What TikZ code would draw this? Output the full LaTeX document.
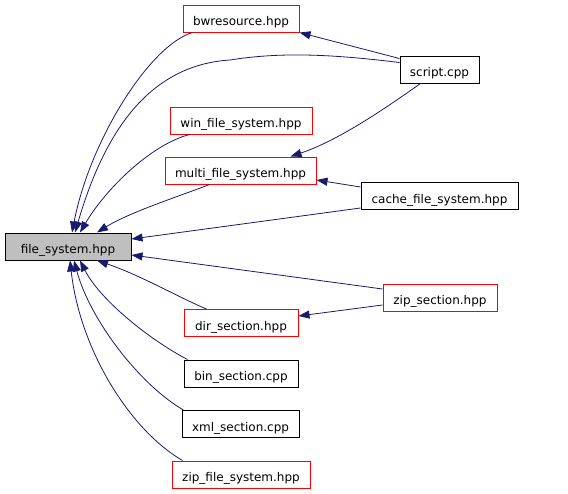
\documentclass[tikz,border=0pt]{standalone}
\usepackage{fontspec}
\setmainfont{DejaVu Sans}
\usetikzlibrary{arrows.meta}
\definecolor{inclblue}{HTML}{191970}
\definecolor{focusgray}{HTML}{BFBFBF}
\definecolor{linkred}{HTML}{FF0000}
\tikzset{
  filebox/.style={draw=black, line width=1pt, minimum height=27pt, inner sep=0pt,
    text height=14pt, text depth=0pt, font=\fontsize{12}{14}\selectfont},
  redbox/.style={filebox, draw=linkred},
  incl/.style={inclblue, line width=0.8pt, -{Triangle[length=11pt,width=8pt]}}
}

\begin{document}
\begin{tikzpicture}[x=1pt, y=-1pt]
  \useasboundingbox (0,0) rectangle (568,493);

  \node[filebox, fill=focusgray, minimum width=126pt] (fs) at (68,246.5) {file\_system.hpp};

  \node[redbox, minimum width=116pt] (bw) at (241,18.5) {bwresource.hpp};
  \node[filebox, minimum width=79pt] (script) at (439.5,69.5) {script.cpp};
  \node[redbox, minimum width=142pt] (win) at (241,120.5) {win\_file\_system.hpp};
  \node[redbox, minimum width=151pt] (multi) at (240.5,170.5) {multi\_file\_system.hpp};
  \node[filebox, minimum width=157pt] (cache) at (439.5,196) {cache\_file\_system.hpp};
  \node[redbox, minimum width=114pt] (zip) at (440,297.5) {zip\_section.hpp};
  \node[redbox, minimum width=114pt] (dir) at (241,323) {dir\_section.hpp};
  \node[filebox, minimum width=114pt] (bin) at (241,373.5) {bin\_section.cpp};
  \node[filebox, minimum width=117pt] (xml) at (240.5,424) {xml\_section.cpp};
  \node[redbox, minimum width=138pt] (zipfs) at (241,474.5) {zip\_file\_system.hpp};

  \draw[incl] ([xshift=10pt]bw.south west) .. controls (150,45) and (90,140) .. ([xshift=4pt]fs.north);
  \draw[incl] ([yshift=7pt]script.west) .. controls (330,54) and (280,52) .. (230,60)
    .. controls (150,65) and (105,130) .. ([xshift=7pt]fs.north);
  \draw[incl] ([yshift=11pt]script.west) -- (bw.south east);
  \draw[incl] ([xshift=-19pt]script.south) .. controls (390,105) and (340,140) .. ([xshift=-26pt]multi.north east);
  \draw[incl] ([xshift=20pt]win.south west) .. controls (150,145) and (105,190) .. ([xshift=12pt]fs.north);
  \draw[incl] ([xshift=45pt]multi.south west) .. controls (180,196) and (130,212) .. ([xshift=29pt]fs.north);
  \draw[incl] ([yshift=9pt]cache.west) -- ([yshift=-9.5pt]multi.east);
  \draw[incl] ([yshift=2pt]cache.south west) -- ([yshift=7.5pt]fs.east);
  \draw[incl] ([yshift=8.5pt]zip.west) -- ([yshift=-8.5pt]fs.east);
  \draw[incl] ([yshift=-7.5pt]zip.west) -- ([yshift=7pt]dir.east);
  \draw[incl] ([xshift=23pt]dir.north west) .. controls (180,298) and (140,275) .. ([xshift=29pt]fs.south);
  \draw[incl] ([xshift=4pt]bin.north west) .. controls (150,340) and (100,300) .. ([xshift=12pt]fs.south);
  \draw[incl] ([xshift=2pt]xml.north west) .. controls (140,385) and (90,320) .. ([xshift=6pt]fs.south);
  \draw[incl] ([xshift=11pt]zipfs.north west) .. controls (130,430) and (80,350) .. ([xshift=2pt]fs.south);
\end{tikzpicture}
\end{document}
